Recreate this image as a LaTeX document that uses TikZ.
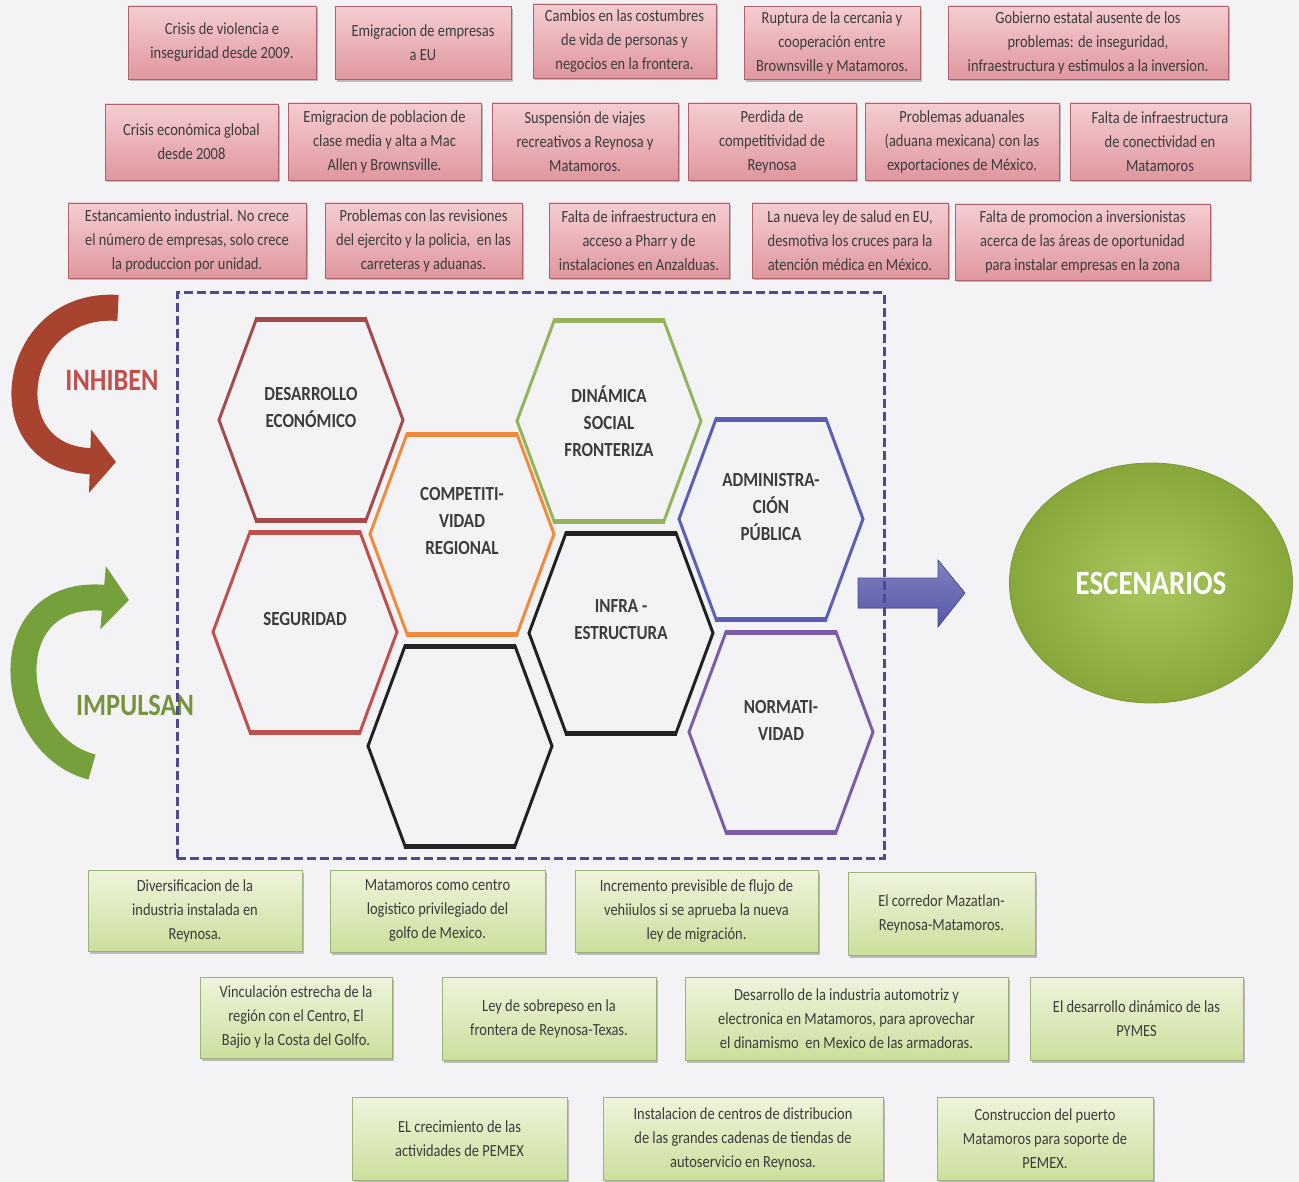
\documentclass[tikz,border=0pt]{standalone}
\usepackage{fontspec}
\setmainfont{Carlito}[FakeStretch=0.85]
\usetikzlibrary{shapes.geometric,arrows.meta,shadows}
\definecolor{bgcol}{HTML}{F3F3F5}
\definecolor{pinktop}{HTML}{F5CDD1}
\definecolor{pinkbot}{HTML}{DF979E}
\definecolor{pinkborder}{HTML}{AC6268}
\definecolor{greentop}{HTML}{EEF4DC}
\definecolor{greenbot}{HTML}{CCDF9C}
\definecolor{greenborder}{HTML}{9FB17A}
\definecolor{textgray}{HTML}{3C3C3C}
\definecolor{hexredA}{HTML}{A34A4C}
\definecolor{hexredB}{HTML}{C0504D}
\definecolor{hexorange}{HTML}{F08A3C}
\definecolor{hexgreen}{HTML}{94B35A}
\definecolor{hexblue}{HTML}{5C5FB5}
\definecolor{hexblack}{HTML}{222222}
\definecolor{hexpurple}{HTML}{7D5CA6}
\definecolor{framecol}{HTML}{4A4C8E}
\definecolor{arrowblue}{HTML}{5557A9}
\definecolor{escin}{HTML}{A9C75E}
\definecolor{escout}{HTML}{88A73A}
\definecolor{escborder}{HTML}{7D9A35}
\definecolor{inhred}{HTML}{A8432F}
\definecolor{impgreen}{HTML}{76A03C}
\definecolor{labred}{HTML}{C0504D}
\definecolor{labgreen}{HTML}{77933C}
\newcommand\hexcell[6]{%
  \begin{scope}[shift={(#2,#3)}]
    \draw[draw=#4, line width=3pt] (-92,0) -- (-55,-100) -- (55,-100) -- (92,0) -- (55,100) -- (-55,100) -- cycle;
    \draw[draw=#4, line width=5pt] (-56,-100) -- (56,-100) (-56,100) -- (56,100);
    \node[hextext] (#1) at (0,#6) {#5};
  \end{scope}}
\begin{document}
\begin{tikzpicture}[x=1pt,y=-1pt,
  boxbase/.style={line width=0.8pt, text=textgray, align=center, inner sep=0pt,
    font=\fontsize{17}{24}\selectfont,
    drop shadow={shadow xshift=1.5pt, shadow yshift=-2.5pt, opacity=0.4, fill=black!60}},
  pinkbox/.style={boxbase, draw=pinkborder, top color=pinktop, bottom color=pinkbot},
  greenbox/.style={boxbase, draw=greenborder, top color=greentop, bottom color=greenbot},
  hextext/.style={text=textgray, align=center, font=\bfseries\fontsize{20}{27}\selectfont},
  biglabel/.style={font=\bfseries\fontsize{31}{36}\selectfont}
]
\useasboundingbox (0,0) rectangle (1299,1182);
\fill[bgcol] (0,0) rectangle (1299,1182);

% ---------- pink boxes (inhiben) ----------
\node[pinkbox, minimum width=188pt, minimum height=73pt] (b1) at (222,42.5) {Crisis de violencia e\\inseguridad desde 2009.};
\node[pinkbox, minimum width=176pt, minimum height=73pt] (b2) at (423,43) {Emigracion de empresas\\a EU};
\node[pinkbox, minimum width=183pt, minimum height=74pt] (b3) at (624.5,41) {Cambios en las costumbres\\de vida de personas y\\negocios en la frontera.};
\node[pinkbox, minimum width=176pt, minimum height=73pt] (b4) at (832,43) {Ruptura de la cercania y\\cooperación entre\\Brownsville y Matamoros.};
\node[pinkbox, minimum width=280pt, minimum height=73pt] (b5) at (1088,42.5) {Gobierno estatal ausente de los\\problemas: de inseguridad,\\infraestructura y estimulos a la inversion.};

\node[pinkbox, minimum width=173pt, minimum height=76pt] (c1) at (191.5,142) {Crisis económica global\\desde 2008};
\node[pinkbox, minimum width=193pt, minimum height=77pt] (c2) at (384.5,141.5) {Emigracion de poblacion de\\clase media y alta a Mac\\Allen y Brownsville.};
\node[pinkbox, minimum width=186pt, minimum height=77pt] (c3) at (585,141.5) {Suspensión de viajes\\recreativos a Reynosa y\\Matamoros.};
\node[pinkbox, minimum width=168pt, minimum height=77pt] (c4) at (772,141.5) {Perdida de\\competitividad de\\Reynosa};
\node[pinkbox, minimum width=194pt, minimum height=77pt] (c5) at (962,141.5) {Problemas aduanales\\(aduana mexicana) con las\\exportaciones de México.};
\node[pinkbox, minimum width=180pt, minimum height=77pt] (c6) at (1160,141.5) {Falta de infraestructura\\de conectividad en\\Matamoros};

\node[pinkbox, minimum width=238pt, minimum height=75pt] (d1) at (187,240.5) {Estancamiento industrial. No crece\\el número de empresas, solo crece\\la produccion por unidad.};
\node[pinkbox, minimum width=197pt, minimum height=75pt] (d2) at (423.5,240.5) {Problemas con las revisiones\\del ejercito y la policia,\ \ en las\\carreteras y aduanas.};
\node[pinkbox, minimum width=180pt, minimum height=75pt] (d3) at (639,240.5) {Falta de infraestructura en\\acceso a Pharr y de\\instalaciones en Anzalduas.};
\node[pinkbox, minimum width=196pt, minimum height=75pt] (d4) at (850,240.5) {La nueva ley de salud en EU,\\desmotiva los cruces para la\\atención médica en México.};
\node[pinkbox, minimum width=255pt, minimum height=76pt] (d5) at (1082.5,242) {Falta de promocion a inversionistas\\acerca de las áreas de oportunidad\\para instalar empresas en la zona};

% ---------- curved arrows and labels ----------
\coordinate (inhS) at (118,308);
\coordinate (inhE) at (116,462);
\draw[inhred, line width=26pt, -{Triangle[width=62pt,length=26pt]}] (inhS) .. controls (10,300) and (-12,458) .. (inhE);
\coordinate (impS) at (92,767);
\coordinate (impE) at (129,600);
\draw[impgreen, line width=26pt, -{Triangle[width=62pt,length=26pt]}] (impS) .. controls (5,745) and (-8,588) .. (impE);
\node[biglabel, text=labred] (inhiben) at (112,380) {INHIBEN};
\node[biglabel, text=labgreen] (impulsan) at (135,705) {IMPULSAN};

% ---------- hexagons ----------
\hexcell{hdes}{311}{420}{hexredA}{DESARROLLO\\ECONÓMICO}{-12}
\hexcell{hcomp}{462}{534}{hexorange}{COMPETITI-\\VIDAD\\REGIONAL}{-13}
\hexcell{hdin}{609}{421}{hexgreen}{DINÁMICA\\SOCIAL\\FRONTERIZA}{0}
\hexcell{hadm}{771}{519}{hexblue}{ADMINISTRA-\\CIÓN\\PÚBLICA}{-12}
\hexcell{hseg}{305}{632}{hexredB}{SEGURIDAD}{-13}
\hexcell{hinf}{621}{633}{hexblack}{INFRA -\\ESTRUCTURA}{-13}
\hexcell{hemp}{460}{746}{hexblack}{}{0}
\hexcell{hnorm}{781}{732}{hexpurple}{NORMATI-\\VIDAD}{-12}

% ---------- block arrow and ellipse ----------
\node[ellipse, minimum width=283pt, minimum height=240pt, inner color=escin, outer color=escout,
  draw=escborder, line width=0.8pt, text=white, font=\bfseries\fontsize{34}{40}\selectfont] (esc) at (1151,583) {ESCENARIOS};
\coordinate (arrS) at (858,593);
\coordinate (arrE) at (965,593);
\fill[top color=arrowblue!75, bottom color=arrowblue, draw=arrowblue!85!black, line width=0.6pt]
  (arrS) ++(0,-15) -- ++(80,0) -- ++(0,-18) -- (arrE) -- ++(-27,34) -- ++(0,-19) -- ++(-80,0) -- cycle;

% ---------- dashed frame ----------
\node[draw=framecol, line width=3pt, dash pattern=on 9pt off 4pt, minimum width=707pt, minimum height=565pt, inner sep=0pt] (frame) at (530.5,575.5) {};

% ---------- green boxes (impulsan) ----------
\node[greenbox, minimum width=214pt, minimum height=81pt] (e1) at (195,910.5) {Diversificacion de la\\industria instalada en\\Reynosa.};
\node[greenbox, minimum width=215pt, minimum height=82pt] (e2) at (437.5,911) {Matamoros como centro\\logistico privilegiado del\\golfo de Mexico.};
\node[greenbox, minimum width=243pt, minimum height=82pt] (e3) at (696.5,911) {Incremento previsible de flujo de\\vehiiulos si se aprueba la nueva\\ley de migración.};
\node[greenbox, minimum width=187pt, minimum height=83pt] (e4) at (941.5,913.5) {El corredor Mazatlan-\\Reynosa-Matamoros.};

\node[greenbox, minimum width=192pt, minimum height=81pt] (f1) at (296,1017.5) {Vinculación estrecha de la\\región con el Centro, El\\Bajio y la Costa del Golfo.};
\node[greenbox, minimum width=214pt, minimum height=83pt] (f2) at (549,1018.5) {Ley de sobrepeso en la\\frontera de Reynosa-Texas.};
\node[greenbox, minimum width=323pt, minimum height=83pt] (f3) at (846.5,1018.5) {Desarrollo de la industria automotriz y\\electronica en Matamoros, para aprovechar\\el dinamismo\ \ en Mexico de las armadoras.};
\node[greenbox, minimum width=213pt, minimum height=83pt] (f4) at (1136.5,1018.5) {El desarrollo dinámico de las\\PYMES};

\node[greenbox, minimum width=215pt, minimum height=83pt] (g1) at (459.5,1138.5) {EL crecimiento de las\\actividades de PEMEX};
\node[greenbox, minimum width=280pt, minimum height=83pt] (g2) at (743,1138.5) {Instalacion de centros de distribucion\\de las grandes cadenas de tiendas de\\autoservicio en Reynosa.};
\node[greenbox, minimum width=216pt, minimum height=83pt] (g3) at (1045,1138.5) {Construccion del puerto\\Matamoros para soporte de\\PEMEX.};
\end{tikzpicture}
\end{document}
